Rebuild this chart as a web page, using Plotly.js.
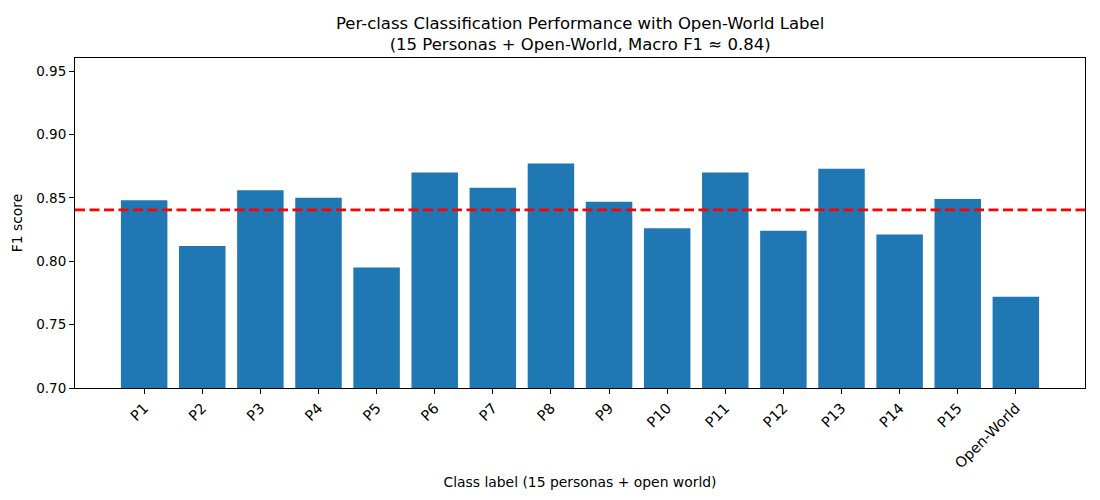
<!DOCTYPE html>
<html>
<head>
<meta charset="utf-8">
<script src="https://cdn.plot.ly/plotly-3.0.1.min.js"></script>
<style>
  html, body { margin: 0; padding: 0; background: #fff; }
  #chart { width: 1100px; height: 500px; }
</style>
</head>
<body>
<div id="chart"></div>
<script>
// Per-class F1 scores: 15 personas plus the open-world class
const classLabels = ["P1", "P2", "P3", "P4", "P5", "P6", "P7", "P8",
                     "P9", "P10", "P11", "P12", "P13", "P14", "P15", "Open-World"];
const f1Scores = [0.848, 0.812, 0.856, 0.850, 0.795, 0.870, 0.858, 0.877,
                  0.847, 0.826, 0.870, 0.824, 0.873, 0.821, 0.849, 0.772];
const yTickValues = [0.70, 0.75, 0.80, 0.85, 0.90, 0.95];

// Macro F1 = unweighted mean over all classes
const macroF1 = f1Scores.reduce((a, b) => a + b, 0) / f1Scores.length;

const font = "DejaVu Sans, Liberation Sans, sans-serif";
const xIdx = classLabels.map((_, i) => i);

const bars = {
  type: "bar",
  x: xIdx,
  y: f1Scores,
  base: 0,
  width: 0.8,
  marker: { color: "#1f77b4", line: { width: 0 } },
  hoverinfo: "x+y",
  showlegend: false
};

const layout = {
  width: 1100,
  height: 500,
  paper_bgcolor: "#ffffff",
  plot_bgcolor: "#ffffff",
  margin: { l: 75, r: 15, t: 58, b: 112 },
  font: { family: font, size: 13, color: "#000" },
  annotations: [{
    text: "Per-class Classification Performance with Open-World Label<br>(15 Personas + Open-World, Macro F1 \u2248 " + macroF1.toFixed(2) + ")",
    font: { family: font, size: 16.5, color: "#000" },
    xref: "paper", x: 0.5, xanchor: "center",
    yref: "paper", y: 1.0742, yanchor: "middle",
    showarrow: false, align: "center"
  }],
  xaxis: {
    range: [-1.19, 16.19],
    tickmode: "array",
    tickvals: xIdx,
    ticktext: classLabels,
    tickangle: -45,
    ticks: "outside",
    ticklen: 5,
    tickwidth: 1,
    tickcolor: "#000",
    tickfont: { family: font, size: 14.5, color: "#000" },
    showline: true, linecolor: "#000", linewidth: 1, mirror: true,
    showgrid: false, zeroline: false,
    title: { text: "Class label (15 personas + open world)", font: { family: font, size: 13.9, color: "#000" }, standoff: 6 }
  },
  yaxis: {
    range: [0.70, 0.9603],
    tickmode: "array",
    tickvals: yTickValues,
    ticktext: yTickValues.map(v => v.toFixed(2)),
    ticks: "outside",
    ticklen: 5,
    tickwidth: 1,
    tickcolor: "#000",
    tickfont: { family: font, size: 13.5, color: "#000" },
    showline: true, linecolor: "#000", linewidth: 1, mirror: true,
    showgrid: false, zeroline: false,
    title: { text: "F1 score", font: { family: font, size: 13.9, color: "#000" }, standoff: 10 }
  },
  shapes: [{
    type: "line",
    xref: "paper", x0: 0, x1: 1,
    yref: "y", y0: macroF1, y1: macroF1,
    line: { color: "#ff0000", width: 2.8, dash: "10px,4.5px" },
    layer: "above"
  }]
};

Plotly.newPlot("chart", [bars], layout, { displayModeBar: false, staticPlot: true });
</script>
</body>
</html>
